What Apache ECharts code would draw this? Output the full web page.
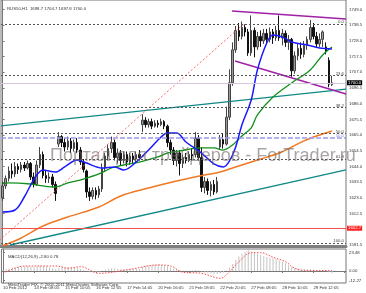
<!DOCTYPE html>
<html><head><meta charset="utf-8">
<script src="https://cdn.jsdelivr.net/npm/echarts@6/dist/echarts.min.js"></script>
<style>html,body{margin:0;padding:0;background:#fff}#c{width:366px;height:293px}</style>
</head><body><div id="c"></div>
<script>
const headerText = 'RUS50,H1  1698.7 1704.7 1697.8 1700.0';
const macdText = 'MACD(12,26,9) -2.80 0.78';
const copyrightText = 'MetaTrader FIX, \u00a9 2001-2011 MetaQuotes Software Corp.';
const watermark = 'Портал для трейдеров - ForTrader.ru';

const dateLabels = ['10 Feb 2012','14 Feb 08:05','15 Feb 10:05','16 Feb 12:05','17 Feb 14:05','20 Feb 16:05','21 Feb 18:05','22 Feb 20:05','27 Feb 08:05','28 Feb 10:05','29 Feb 12:05'];
const priceTicks = [1591.5,1612.5,1623.0,1633.5,1644.0,1654.5,1665.0,1675.5,1686.0,1696.5,1707.0,1717.5,1728.0,1738.5,1749.0];
const macdTicks = [-12.27, 0, 23.48];

// [open, close, low, high]
const candles = [
[1623,1631,1621,1634],[1631,1636,1629,1638],[1636,1641,1634,1644],[1641,1639,1636,1646],[1639,1644,1637,1647],
[1644,1642,1639,1646],[1642,1645,1640,1647],[1645,1643,1641,1647],[1643,1646,1642,1648],[1646,1637,1635,1647],
[1637,1632,1630,1640],[1632,1645,1631,1648],[1645,1652,1643,1657],[1652,1638,1636,1654],[1638,1636,1633,1641],
[1636,1637,1633,1640],[1637,1632,1630,1639],[1632,1626,1621,1634],[1659,1664,1657,1667],[1664,1660,1657,1665],
[1660,1657,1654,1663],[1657,1661,1655,1664],[1661,1656,1653,1663],[1656,1660,1654,1662],[1660,1655,1653,1663],
[1655,1647,1645,1657],[1647,1642,1640,1649],[1641,1627,1623,1642],[1627,1624,1621,1630],[1624,1628,1622,1630],
[1628,1625,1622,1630],[1625,1629,1623,1631],[1629,1643,1627,1646],[1643,1651,1641,1653],[1651,1656,1648,1659],
[1656,1660,1653,1664],[1660,1650,1648,1662],[1650,1653,1646,1656],[1653,1648,1645,1655],[1648,1652,1646,1654],
[1652,1647,1644,1654],[1647,1651,1645,1653],[1651,1649,1646,1653],[1649,1652,1647,1654],[1652,1650,1648,1655],
[1672,1675,1667,1679],[1675,1672,1670,1677],[1672,1674,1670,1676],[1674,1671,1669,1676],[1671,1673,1670,1675],
[1673,1672,1670,1675],[1672,1674,1671,1676],[1674,1671,1669,1675],[1671,1660,1657,1672],[1660,1655,1652,1662],
[1655,1648,1645,1657],[1648,1653,1644,1655],[1653,1646,1638,1655],[1646,1650,1643,1652],[1650,1648,1646,1653],
[1648,1652,1647,1654],[1652,1651,1648,1656],[1652,1663,1650,1667],[1663,1650,1648,1665],[1650,1630,1627,1657],
[1630,1634,1626,1637],[1634,1628,1625,1636],[1628,1632,1624,1634],[1632,1627,1625,1635],[1627,1634,1626,1637],
[1657,1662,1655,1665],[1662,1659,1656,1666],[1659,1677,1658,1684],[1677,1700,1675,1709],[1700,1722,1698,1727],
[1722,1735,1720,1738],[1735,1731,1728,1740],[1731,1737,1729,1741],[1737,1734,1731,1739],[1734,1720,1718,1736],
[1720,1735,1718,1745],[1735,1724,1717,1737],[1724,1731,1722,1734],[1731,1728,1724,1735],[1728,1733,1726,1736],
[1733,1729,1726,1736],[1729,1734,1727,1737],[1734,1730,1726,1736],[1730,1735,1728,1738],[1735,1730,1728,1745],
[1730,1733,1725,1736],[1733,1727,1724,1735],[1727,1729,1722,1732],[1729,1708,1704,1730],[1708,1718,1706,1721],
[1718,1723,1715,1726],[1723,1719,1716,1727],[1719,1725,1717,1728],[1725,1729,1722,1731],[1729,1737,1727,1742],
[1737,1731,1729,1740],[1731,1726,1724,1734],[1726,1729,1724,1733],[1729,1734,1724,1735],[1724,1721,1719,1727],
[1715,1699,1697,1717],[1698.7,1700.0,1697.8,1704.7]
];

// moving averages: [bar index, price]
const maBlue = [[0,1613.6],[4,1614.9],[7,1623.6],[10,1635.0],[13,1641.7],[17,1640.3],[20,1643.7],[24,1648.4],[27,1646.3],[32,1643.0],[36,1643.7],[39,1641.7],[43,1647.0],[47,1655.0],[51,1663.7],[53,1666.4],[56,1666.4],[59,1660.4],[64,1653.0],[68,1645.7],[71,1643.7],[73,1647.7],[75,1657.1],[77,1671.8],[80,1688.5],[82,1708.6],[85,1726.6],[87,1732.0],[90,1730.6],[93,1727.3],[98,1725.3],[102,1723.3],[106,1722.6]];
const maGreen = [[0,1632.3],[2,1633.0],[9,1632.3],[13,1631.0],[17,1630.3],[21,1633.0],[26,1635.6],[31,1639.0],[35,1643.0],[39,1645.0],[44,1647.0],[50,1650.4],[53,1653.0],[57,1654.4],[64,1656.4],[68,1656.4],[71,1655.0],[74,1658.4],[77,1664.4],[80,1669.8],[82,1678.5],[87,1690.5],[93,1699.9],[99,1708.6],[103,1718.6],[106,1723.9]];
const maOrange = [[0,1591.0],[6,1596.2],[13,1604.2],[21,1610.2],[31,1616.9],[38,1624.3],[47,1629.6],[56,1634.3],[65,1638.3],[70,1640.3],[75,1643.7],[82,1648.4],[89,1653.0],[97,1661.1],[102,1665.1],[106,1667.8]];

const tealUpper = [[-0.5,1671.1],[110.5,1695.8]];
const tealLower = [[2.4,1591.5],[110.5,1641.7]];
const purpleUpper = [[73.8,1748.0],[110.5,1742.7]];
const purpleLower = [[74.8,1714.6],[110.5,1692.5]];
const fibTrend = [[-2.0,1592.8],[77.6,1739.3]];
const fibLabels = ['0.0','23.6','38.2','50.0','61.8','100.0'];
const fibPrices = [1739.3,1704.7,1683.3,1666.1,1648.8,1592.8];
const blueLevel = 1663.1;
const bidPrice = 1700.0;
const redLevel = 1602.7;

const macdHist = [2,2.5,3,4,4.5,5,5.5,6,6.5,5.5,5,6,7,6.5,5.5,4.5,3.5,2.5,3.5,4.5,
5,5,5,4.5,4,3,1.5,0,-1,-1.5,-1.5,-1,0.5,2,3,3.5,3.5,3,2.5,2.5,
2.5,3,3,3,3,5,6.5,7.5,8,8.5,8.5,8,7.5,6,4.5,3,2,1,0.5,0.5,
0.5,0.5,1.5,1,-0.5,-2,-3,-3.5,-4,-4,-3,-2,0.5,4.5,9,14,18.5,22,24.5,26.5,
25,23.5,22,20.5,19,18,17,16.5,15,13.5,12,10,7.5,5,4,3.5,3,3,2.5,2.5,
2,1.5,1,0.5,0,-1.5,-2.8];
const macdSignal = [[0,-3],[7,6.4],[17,6.4],[21,3.5],[25,5.5],[31,-3],[41,2.2],[50,7.7],[54,6.4],[58,-1.7],[64,-3],[70,-9.4],[73,-0.9],[76,11.9],[80,23.5],[83,23.5],[87,17.6],[91,11.9],[94,3.5],[98,0.4],[106,0.78]];

const SLOTS = 111;
const FONT = '"Liberation Sans", Arial, sans-serif';
const categories = Array.from({length: SLOTS}, (_, i) => (i % 10 === 0 && dateLabels[i / 10]) ? dateLabels[i / 10] : '');
const small = {fontSize: 4.3, fontFamily: FONT, color: '#333', fontWeight: 'normal'};

function lineS(data, color, width, type, smooth) {
  return {type: 'line', xAxisIndex: 1, yAxisIndex: 0, data: data, symbol: 'none', smooth: smooth ? 0.35 : false,
    clip: true, silent: true, lineStyle: {color: color, width: width, type: type || 'solid'}};
}

const markData = [];
fibPrices.forEach((p, k) => markData.push({yAxis: p, lineStyle: {color: '#555', width: 1, type: [2, 2]},
  label: {show: true, position: 'insideEndTop', distance: [2, 0], formatter: fibLabels[k], ...small, color: '#444'}}));
markData.push({yAxis: blueLevel, lineStyle: {color: '#9a9aee', width: 1.5, type: [5, 2]},
  label: {show: true, position: 'insideEndTop', distance: [2, 0], formatter: '50.0', ...small, color: '#8888dd'}});
markData.push({yAxis: bidPrice, lineStyle: {color: '#d6c8dc', width: 1, type: 'solid'},
  label: {show: true, position: 'end', distance: 1, formatter: bidPrice.toFixed(1), ...small, color: '#fff', backgroundColor: '#000', padding: [1, 1, 0, 1]}});
markData.push({yAxis: redLevel, lineStyle: {color: '#f05050', width: 1, type: 'solid'},
  label: {show: true, position: 'end', distance: 1, formatter: redLevel.toFixed(1), ...small, color: '#fff', backgroundColor: '#ff2020', padding: [1, 1, 0, 1]}});

const option = {
  animation: false,
  backgroundColor: '#fff',
  title: [
    {text: headerText, left: 2, top: 2, textStyle: small},
    {text: macdText, left: 3, top: 250, textStyle: small},
    {text: copyrightText, left: 3, top: 278, textStyle: small}
  ],
  graphic: [{type: 'text', left: 50, top: 147, z: 100, silent: true,
    style: {text: watermark, fontSize: 18, fontFamily: FONT, fill: 'rgba(110,98,98,0.58)'}}],
  grid: [
    {left: 1, right: 20, top: 0, height: 246, show: true, borderColor: '#777', borderWidth: 1},
    {left: 1, right: 20, top: 249, height: 34, show: true, borderColor: '#777', borderWidth: 1}
  ],
  xAxis: [
    {type: 'category', gridIndex: 0, data: categories, boundaryGap: true,
      axisLine: {show: true, lineStyle: {color: '#808080', width: 3}}, axisTick: {show: false}, axisLabel: {show: false}, splitLine: {show: false}},
    {type: 'value', gridIndex: 0, min: -0.5, max: SLOTS - 0.5, show: false},
    {type: 'category', gridIndex: 1, data: categories, boundaryGap: true,
      axisLine: {show: true, lineStyle: {color: '#777'}},
      axisTick: {show: true, length: 2, alignWithLabel: true, interval: (i) => i % 10 === 0, lineStyle: {color: '#777'}},
      axisLabel: {show: true, interval: 0, align: 'left', margin: 3, ...small}, splitLine: {show: false}},
    {type: 'value', gridIndex: 1, min: -0.5, max: SLOTS - 0.5, show: false}
  ],
  yAxis: [
    {type: 'value', gridIndex: 0, position: 'right', min: 1590.83, max: 1755.35, scale: true,
      axisLine: {show: true, lineStyle: {color: '#777'}},
      axisTick: {show: true, length: 2, customValues: priceTicks, lineStyle: {color: '#777'}},
      axisLabel: {show: true, customValues: priceTicks, formatter: v => v.toFixed(1), margin: 3, ...small},
      splitLine: {show: false}},
    {type: 'value', gridIndex: 1, position: 'right', min: -15.4, max: 28.2,
      axisLine: {show: true, lineStyle: {color: '#777'}},
      axisTick: {show: true, length: 2, customValues: macdTicks, lineStyle: {color: '#777'}},
      axisLabel: {show: true, customValues: macdTicks, formatter: v => v.toFixed(2), margin: 3, ...small},
      splitLine: {show: false}}
  ],
  series: [
    {type: 'candlestick', xAxisIndex: 0, yAxisIndex: 0, data: candles, barWidth: 2, silent: true,
      itemStyle: {color: '#9a9a9a', color0: '#111', borderColor: '#444', borderColor0: '#111', borderWidth: 1},
      markLine: {symbol: 'none', silent: true, animation: false, data: markData}},
    lineS(tealUpper, '#118888', 1.3),
    lineS(tealLower, '#118888', 1.3),
    lineS(fibTrend, '#ff6a6a', 1, [2, 2]),
    lineS(purpleUpper, '#a020a8', 1.5),
    lineS(purpleLower, '#a020a8', 1.5),
    lineS(maOrange, '#f07822', 1.5, 'solid', true),
    lineS(maGreen, '#10901a', 1.3, 'solid', true),
    lineS(maBlue, '#1a1aff', 1.5, 'solid', true),
    {type: 'bar', xAxisIndex: 2, yAxisIndex: 1, data: macdHist, barWidth: 1, silent: true, itemStyle: {color: '#c4c4c4'}},
    {type: 'line', xAxisIndex: 3, yAxisIndex: 1, data: macdSignal, symbol: 'none', smooth: 0.35, silent: true,
      lineStyle: {color: '#ff4a4a', width: 1, type: [1.5, 1.5]}}
  ]
};
echarts.init(document.getElementById('c'), null, {renderer: 'canvas'}).setOption(option);
</script></body></html>
